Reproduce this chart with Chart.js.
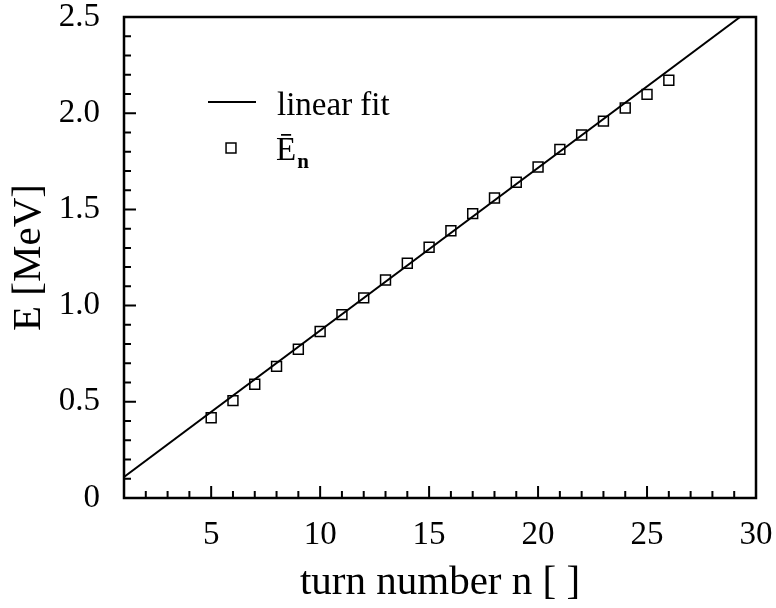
<!DOCTYPE html>
<html>
<head>
<meta charset="utf-8">
<script src="https://cdn.jsdelivr.net/npm/chart.js@4/dist/chart.umd.min.js"></script>
<style>
  html, body { margin: 0; padding: 0; background: #fff; }
  #wrap { width: 776px; height: 608px; }
</style>
</head>
<body>
<div id="wrap"><canvas id="chart"></canvas></div>
<script>
// mean energy per turn
const turns = [5, 6, 7, 8, 9, 10, 11, 12, 13, 14, 15, 16, 17, 18, 19, 20, 21, 22, 23, 24, 25, 26];
const energy = [0.417, 0.506, 0.591, 0.684, 0.773, 0.865, 0.953, 1.04, 1.133, 1.22, 1.303, 1.389,
                1.478, 1.559, 1.641, 1.72, 1.812, 1.887, 1.959, 2.027, 2.098, 2.171];

// end points of the linear fit line
const fitTurns = [1, 29.27];
const fitEnergy = [0.109, 2.5];

const xLabelled = [5, 10, 15, 20, 25, 30];
const yLabelled = [0, 0.5, 1.0, 1.5, 2.0, 2.5];

const serif = '"Liberation Serif", "Times New Roman", serif';

function isLabelled(list, v) {
    return list.some(t => Math.abs(t - v) < 1e-6);
}

// box around the plot plus inward tick marks
const frameAndTicks = {
    id: 'frameAndTicks',
    afterDatasetsDraw(chart) {
        const { ctx, chartArea: a, scales: { x, y } } = chart;
        ctx.save();
        ctx.strokeStyle = '#000';
        ctx.lineWidth = 2;
        ctx.beginPath();
        x.ticks.forEach(t => {
            const px = x.getPixelForValue(t.value);
            const len = isLabelled(xLabelled, t.value) ? 12 : 7;
            ctx.moveTo(px, a.bottom);
            ctx.lineTo(px, a.bottom - len);
        });
        y.ticks.forEach(t => {
            const py = y.getPixelForValue(t.value);
            const len = isLabelled(yLabelled, t.value) ? 12 : 7;
            ctx.moveTo(a.left, py);
            ctx.lineTo(a.left + len, py);
        });
        ctx.stroke();
        ctx.lineWidth = 2.5;
        ctx.strokeRect(a.left, a.top, a.right - a.left, a.bottom - a.top);
        ctx.restore();
    }
};

// legend with the barred E and subscript n
const fitLegend = {
    id: 'fitLegend',
    afterDraw(chart) {
        const ctx = chart.ctx;
        ctx.save();
        ctx.strokeStyle = '#000';
        ctx.fillStyle = '#000';
        ctx.lineWidth = 1.8;
        ctx.beginPath();
        ctx.moveTo(208, 102);
        ctx.lineTo(256, 102);
        ctx.stroke();

        ctx.textBaseline = 'alphabetic';
        ctx.textAlign = 'left';
        ctx.font = '33px ' + serif;
        ctx.fillText('linear fit', 277, 115);

        ctx.fillStyle = 'rgba(0,0,0,0)';
        ctx.lineWidth = 1.5;
        Chart.helpers.drawPoint(ctx, { pointStyle: 'rect', radius: 7, borderWidth: 1.5 }, 231, 148);

        ctx.fillStyle = '#000';
        ctx.font = '33px ' + serif;
        ctx.fillText('\u0112', 276, 160);
        const w = ctx.measureText('\u0112').width;
        ctx.font = 'bold 21px ' + serif;
        ctx.fillText('n', 276 + w + 1, 168);
        ctx.restore();
    }
};

new Chart(document.getElementById('chart'), {
    type: 'scatter',
    data: {
        datasets: [
            {
                label: 'linear fit',
                type: 'line',
                data: fitTurns.map((n, i) => ({ x: n, y: fitEnergy[i] })),
                borderColor: '#000',
                borderWidth: 2,
                pointRadius: 0,
                fill: false,
                tension: 0
            },
            {
                label: 'E_n',
                data: turns.map((n, i) => ({ x: n, y: energy[i] })),
                pointStyle: 'rect',
                pointRadius: 7,
                borderColor: '#000',
                borderWidth: 1.5,
                backgroundColor: 'rgba(0,0,0,0)'
            }
        ]
    },
    plugins: [frameAndTicks, fitLegend],
    options: {
        responsive: true,
        maintainAspectRatio: false,
        animation: false,
        layout: { padding: 0 },
        plugins: {
            legend: { display: false },
            tooltip: { enabled: false }
        },
        scales: {
            x: {
                type: 'linear',
                min: 1,
                max: 30,
                grid: { display: false },
                border: { display: false },
                ticks: {
                    stepSize: 1,
                    autoSkip: false,
                    maxRotation: 0,
                    minRotation: 0,
                    padding: 10,
                    color: '#000',
                    font: { family: serif, size: 33 },
                    callback: v => isLabelled(xLabelled, v) ? String(v) : ''
                },
                title: {
                    display: true,
                    text: 'turn number n [ ]',
                    color: '#000',
                    font: { family: serif, size: 41 },
                    padding: { top: 0, bottom: 0 }
                },
                afterFit(scale) {
                    scale.height = 110;
                    scale.paddingLeft = 0;
                    scale.paddingRight = 20;
                }
            },
            y: {
                min: 0,
                max: 2.5,
                grid: { display: false },
                border: { display: false },
                ticks: {
                    stepSize: 0.1,
                    autoSkip: false,
                    padding: 16,
                    color: '#000',
                    font: { family: serif, size: 33, lineHeight: 1 },
                    callback: v => {
                        if (!isLabelled(yLabelled, v)) return '';
                        return Math.abs(v) < 1e-6 ? '0' : v.toFixed(1);
                    }
                },
                title: {
                    display: true,
                    text: 'E [MeV]',
                    color: '#000',
                    font: { family: serif, size: 41 },
                    padding: { top: 5, bottom: 0 }
                },
                afterFit(scale) {
                    scale.width = 124;
                    scale.paddingTop = 17;
                    scale.paddingBottom = 0;
                }
            }
        }
    }
});
</script>
</body>
</html>
